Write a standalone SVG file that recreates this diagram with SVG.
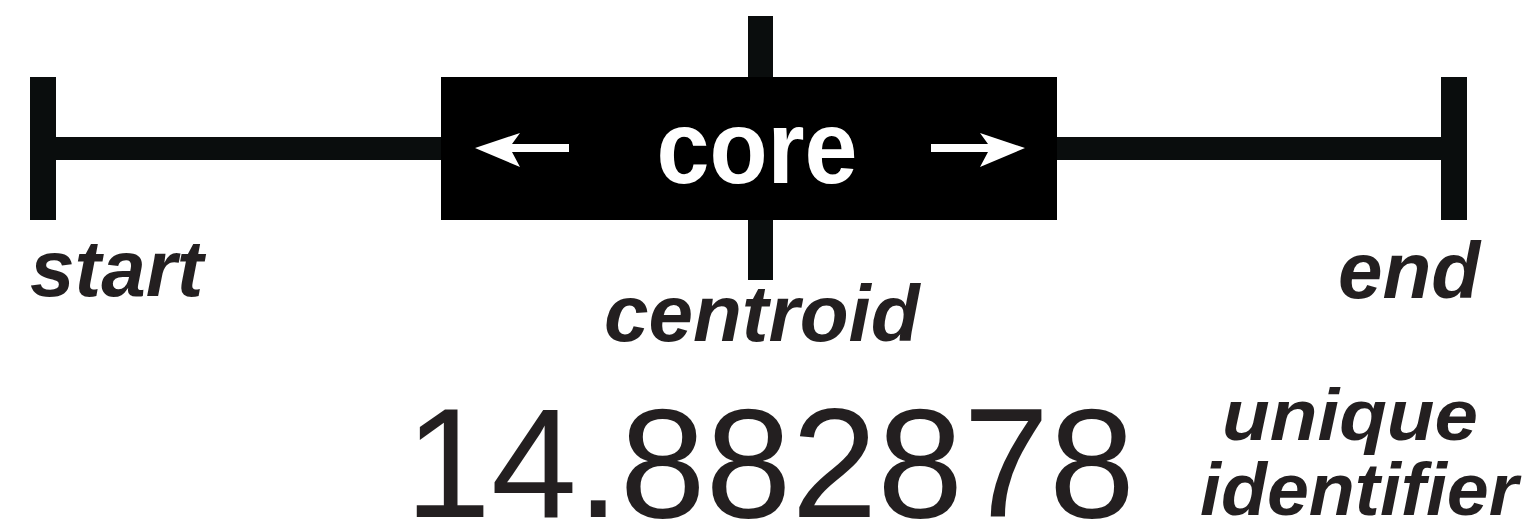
<svg xmlns="http://www.w3.org/2000/svg" width="1533" height="525" viewBox="0 0 1533 525">
<style>
.bar{fill:#0a0d0d}
.lbl{font-family:"Liberation Sans",Arial,sans-serif;font-weight:bold;font-style:italic;fill:#231f20}
.num{font-family:"Liberation Sans",Arial,sans-serif;fill:#231f20}
.core{font-family:"Liberation Sans",Arial,sans-serif;font-weight:bold;fill:#fff}
</style>
<rect width="1533" height="525" fill="#fff"/>
<g id="connectors">
<rect class="bar" x="56" y="137" width="1385" height="23" fill="#030404"/>
<rect id="centroid-bar" class="bar" x="748" y="16" width="25" height="264"/>
</g>
<g id="start">
<rect class="bar" x="30" y="77" width="26" height="143"/>
<text class="lbl" x="30" y="296" font-size="80">start</text>
</g>
<g id="end">
<rect class="bar" x="1441" y="77" width="26" height="143"/>
<text class="lbl" x="1338" y="298" font-size="80">end</text>
</g>
<g id="core">
<rect x="441" y="77" width="616" height="143" fill="#000"/>
<path d="M475 148 L520 133 L512 144 L569 144 L569 152 L512 152 L520 167 Z" fill="#fff"/>
<path d="M1025 148 L980 133 L988 144 L931 144 L931 152 L988 152 L980 167 Z" fill="#fff"/>
<text class="core" x="757" y="183" font-size="104" text-anchor="middle" textLength="201" lengthAdjust="spacingAndGlyphs">core</text>
</g>
<g id="centroid">
<text class="lbl" x="604" y="341" font-size="80">centroid</text>
</g>
<g id="identifier">
<text class="num" x="405" y="517" font-size="156" textLength="730" lengthAdjust="spacingAndGlyphs">14.882878</text>
<text class="lbl" x="1222" y="440" font-size="72" textLength="256" lengthAdjust="spacingAndGlyphs">unique</text>
<text class="lbl" x="1200" y="515" font-size="75" textLength="318" lengthAdjust="spacingAndGlyphs">identifier</text>
</g>
</svg>
